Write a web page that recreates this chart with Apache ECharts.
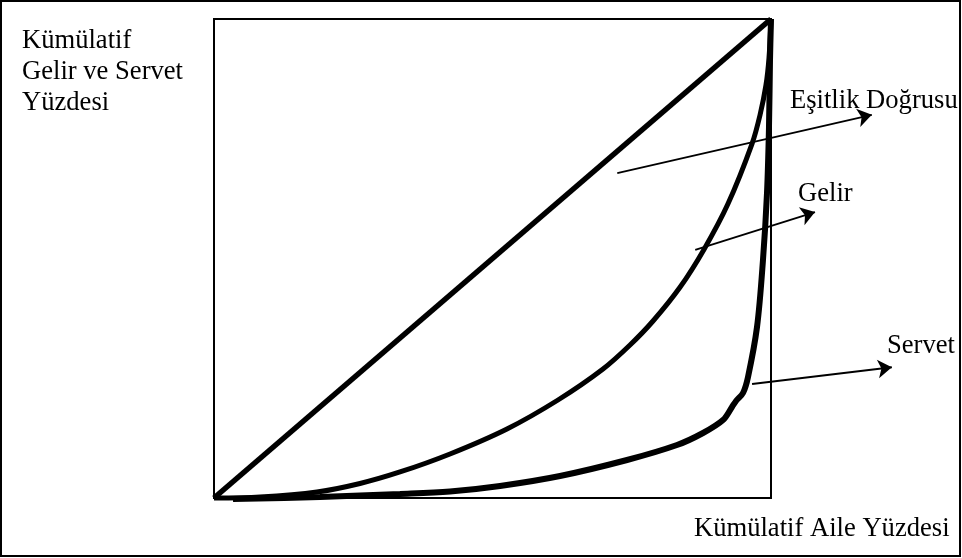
<!DOCTYPE html>
<html>
<head>
<meta charset="utf-8">
<script src="https://cdn.jsdelivr.net/npm/echarts@6/dist/echarts.min.js"></script>
<style>
html,body{margin:0;padding:0;background:#fff;}
#chart{width:962px;height:558px;}
</style>
</head>
<body>
<div id="chart"></div>
<script>
// Cumulative share of families (x, %) vs cumulative share (y, %)
const equalityLine = [[0, 0], [100, 100]];
const gelirCurve = [
  [0, 0], [8.26, 0.21], [18.49, 1.25], [26.21, 3.03], [33.39, 5.43], [42.37, 9.19],
  [52.60, 14.41], [61.76, 20.46], [69.84, 26.93], [74.69, 31.94], [78.82, 36.95],
  [83.66, 43.99], [87.97, 51.90], [92.28, 61.42], [96.59, 73.94], [98.03, 79.96],
  [99.10, 86.22], [99.64, 91.86], [100, 100]
];
const servetCurve = [
  [3.41, -0.2], [19.03, 0.21], [33.39, 0.84], [42.37, 1.36], [51.35, 2.51], [62.12, 4.59],
  [74.15, 7.93], [83.12, 11.06], [87.79, 13.57], [91.38, 16.28], [93.00, 19.00],
  [93.72, 20.25], [94.97, 21.92], [95.87, 25.26], [97.49, 35.70], [98.56, 49.69],
  [99.28, 63.67], [99.64, 77.45], [99.82, 91.44], [100, 100]
];
// annotation arrows: [start, end] in data units
const arrowEsitlik = [[72.4, 67.8], [118.1, 80.0]];
const arrowGelir = [[86.4, 51.8], [107.9, 59.7]];
const arrowServet = [[96.6, 23.8], [121.7, 27.3]];

const yAxisLabelLines = ['Kümülatif', 'Gelir ve Servet', 'Yüzdesi'];
const xAxisLabel = 'Kümülatif Aile Yüzdesi';
const labelEsitlik = 'Eşitlik Doğrusu';
const labelGelir = 'Gelir';
const labelServet = 'Servet';

const FONT = '26.6px "Liberation Serif", "Times New Roman", serif';

const chart = echarts.init(document.getElementById('chart'), null, {renderer: 'canvas'});
function txt(text, x, y) {
  return {type: 'text', x: x, y: y, style: {text: text, font: FONT, fill: '#000', verticalAlign: 'middle', align: 'left'}, z: 10};
}
chart.setOption({
  animation: false,
  backgroundColor: '#fff',
  grid: {left: 214, top: 19, width: 557, height: 479, show: true, borderColor: '#000', borderWidth: 2, backgroundColor: 'transparent'},
  xAxis: {type: 'value', min: 0, max: 100, show: false},
  yAxis: {type: 'value', min: 0, max: 100, show: false},
  graphic: [
    {type: 'rect', shape: {x: 1, y: 1, width: 959, height: 555}, style: {fill: 'none', stroke: '#000', lineWidth: 2}, z: 0},
    txt(yAxisLabelLines[0], 22, 41),
    txt(yAxisLabelLines[1], 22, 72),
    txt(yAxisLabelLines[2], 22, 103),
    txt(xAxisLabel, 694, 529),
    txt(labelEsitlik, 790, 101),
    txt(labelGelir, 798, 194),
    txt(labelServet, 887, 346)
  ],
  series: [
    {type: 'line', data: equalityLine, symbol: 'none', clip: false,
     lineStyle: {color: '#000', width: 5.5}},
    {type: 'line', data: gelirCurve, symbol: 'none', smooth: 0.33, clip: false,
     lineStyle: {color: '#000', width: 5}},
    {type: 'line', data: servetCurve, symbol: 'none', smooth: 0.33, clip: false,
     lineStyle: {color: '#000', width: 6}},
    {type: 'lines', coordinateSystem: 'cartesian2d', clip: false,
     symbol: ['none', 'arrow'], symbolSize: [10, 14],
     lineStyle: {color: '#000', width: 1.8, opacity: 1},
     data: [{coords: arrowEsitlik}, {coords: arrowGelir}, {coords: arrowServet}]}
  ]
});
</script>
</body>
</html>
